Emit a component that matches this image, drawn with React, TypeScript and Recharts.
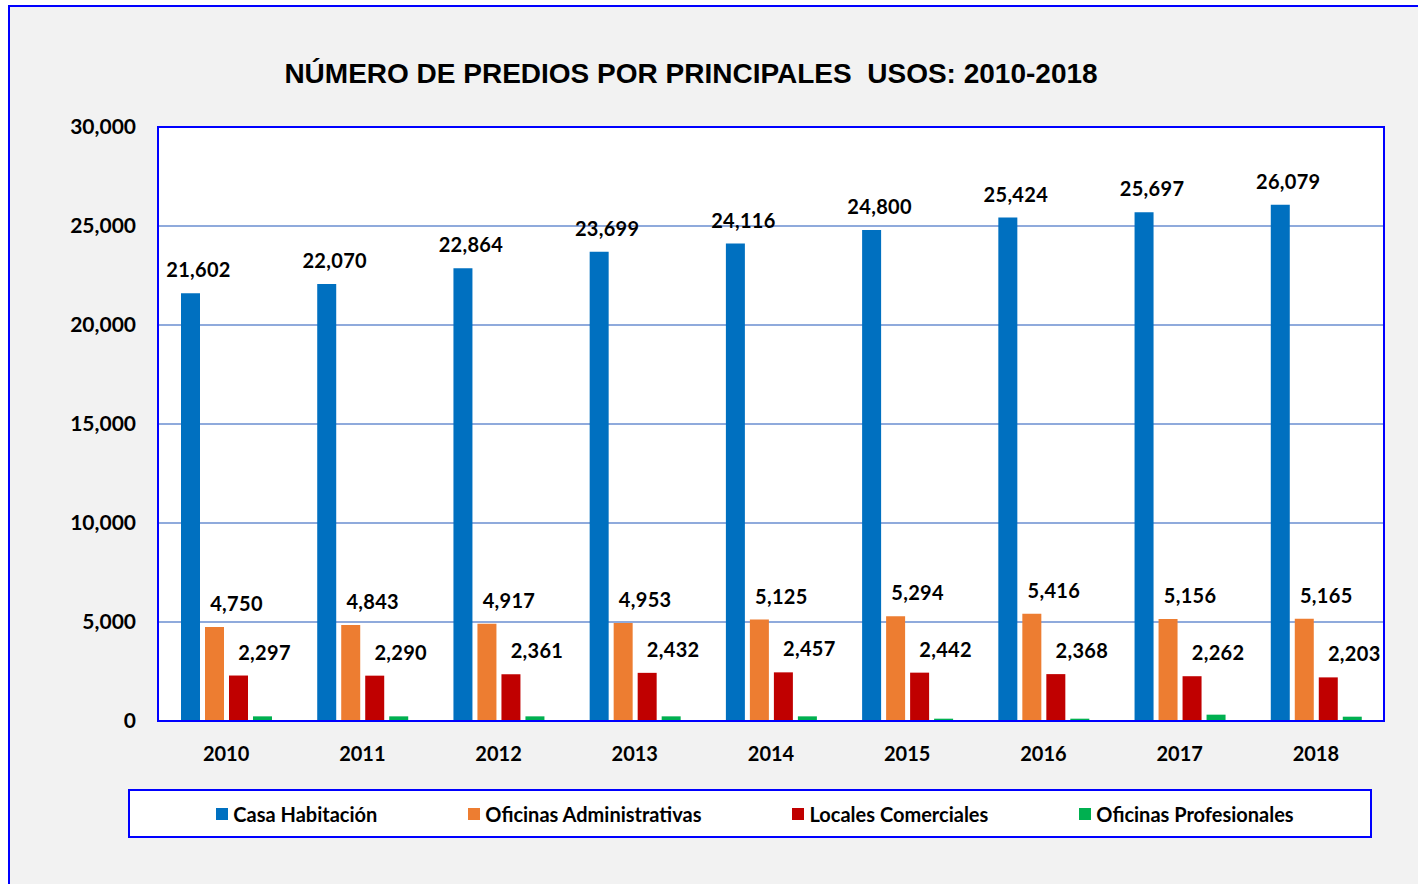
import React from "react";
import { BarChart, Bar, XAxis, YAxis, CartesianGrid, LabelList } from "recharts";

const years = ["2010", "2011", "2012", "2013", "2014", "2015", "2016", "2017", "2018"];
const casaHabitacion = [21602, 22070, 22864, 23699, 24116, 24800, 25424, 25697, 26079];
const oficinasAdministrativas = [4750, 4843, 4917, 4953, 5125, 5294, 5416, 5156, 5165];
const localesComerciales = [2297, 2290, 2361, 2432, 2457, 2442, 2368, 2262, 2203];
const oficinasProfesionales = [235, 235, 235, 235, 235, 117, 117, 320, 218];
const yTicks = [0, 5000, 10000, 15000, 20000, 25000, 30000];

const seriesNames = ["Casa Habitación", "Oficinas Administrativas", "Locales Comerciales", "Oficinas Profesionales"];
const seriesKeys = ["casa", "oficAdm", "locales", "oficProf"];
const colors = ["#0070C0", "#ED7D31", "#C00000", "#00B050"];

const data = years.map((y, i) => ({
  year: y,
  casa: casaHabitacion[i],
  oficAdm: oficinasAdministrativas[i],
  locales: localesComerciales[i],
  oficProf: oficinasProfesionales[i],
}));

const FONT = "Lato, 'Open Sans', sans-serif";
const fmt = (v: number) => v.toLocaleString("en-US");

const makeLabel = (dx: number) => (props: any) => {
  const { x, y, width, value } = props;
  return (
    <text
      x={x + width / 2 + dx}
      y={y - 24}
      textAnchor="middle"
      dominantBaseline="central"
      fontFamily={FONT}
      fontWeight={700}
      fontSize={20}
      letterSpacing={0.3}
      fill="#000"
    >
      {fmt(value)}
    </text>
  );
};

const PLOT = { left: 158, top: 127, right: 1384, bottom: 721 };

export default function App() {
  return (
    <div style={{ position: "absolute", left: 0, top: 0, width: 1418, height: 884, overflow: "hidden", background: "#fff" }}>
      <div
        style={{
          position: "absolute",
          left: 8,
          top: 5,
          width: 1440,
          height: 920,
          background: "#F2F2F2",
          border: "2px solid #0000FF",
          boxSizing: "border-box",
        }}
      />
      <div
        style={{
          position: "absolute",
          left: 0,
          width: 1382,
          top: 56,
          textAlign: "center",
          fontFamily: "'Liberation Sans', Arial, sans-serif",
          fontWeight: 700,
          fontSize: 28,
          color: "#000",
          lineHeight: "36px",
          whiteSpace: "pre",
        }}
      >
        NÚMERO DE PREDIOS POR PRINCIPALES  USOS: 2010-2018
      </div>
      <div
        style={{
          position: "absolute",
          left: PLOT.left,
          top: PLOT.top,
          width: PLOT.right - PLOT.left,
          height: PLOT.bottom - PLOT.top,
          background: "#fff",
        }}
      />
      <div style={{ position: "absolute", left: 0, top: 0 }}>
        <BarChart
          width={1418}
          height={884}
          data={data}
          margin={{ top: PLOT.top, right: 1418 - PLOT.right, bottom: 884 - PLOT.bottom - 30, left: PLOT.left - 100 }}
          barSize={19}
          barGap={5}
        >
          <CartesianGrid vertical={false} stroke="#8FAADC" strokeWidth={2} />
          <XAxis
            dataKey="year"
            height={30}
            axisLine={false}
            tickLine={false}
            tick={{ fontFamily: FONT, fontWeight: 700, fontSize: 20, fill: "#000" }}
            dy={18}
          />
          <YAxis
            width={100}
            domain={[0, 30000]}
            ticks={yTicks}
            interval={0}
            axisLine={false}
            tickLine={false}
            tickFormatter={fmt}
            tick={{ fontFamily: FONT, fontWeight: 700, fontSize: 21, fill: "#000" }}
            dx={-14}
          />
          {seriesKeys.map((k, i) => (
            <Bar key={k} dataKey={k} name={seriesNames[i]} fill={colors[i]} isAnimationActive={false}>
              {i === 0 && <LabelList dataKey={k} content={makeLabel(8)} />}
              {i === 1 && <LabelList dataKey={k} content={makeLabel(22)} />}
              {i === 2 && <LabelList dataKey={k} content={makeLabel(26)} />}
            </Bar>
          ))}
        </BarChart>
      </div>
      <div
        style={{
          position: "absolute",
          left: PLOT.left - 1,
          top: PLOT.top - 1,
          width: PLOT.right - PLOT.left + 2,
          height: PLOT.bottom - PLOT.top + 2,
          border: "2px solid #0000FF",
          boxSizing: "border-box",
          pointerEvents: "none",
        }}
      />
      <div
        style={{
          position: "absolute",
          left: 128,
          top: 789,
          width: 1372 - 128,
          height: 838 - 789,
          background: "#fff",
          border: "2px solid #0000FF",
          boxSizing: "border-box",
          display: "flex",
          alignItems: "center",
          justifyContent: "center",
          gap: 91,
          paddingLeft: 10,
        }}
      >
        {seriesNames.map((n, i) => (
          <div key={n} style={{ display: "flex", alignItems: "center", gap: 5 }}>
            <div style={{ width: 12, height: 12, background: colors[i] }} />
            <span style={{ fontFamily: FONT, fontWeight: 700, fontSize: 20, color: "#000" }}>{n}</span>
          </div>
        ))}
      </div>
    </div>
  );
}
